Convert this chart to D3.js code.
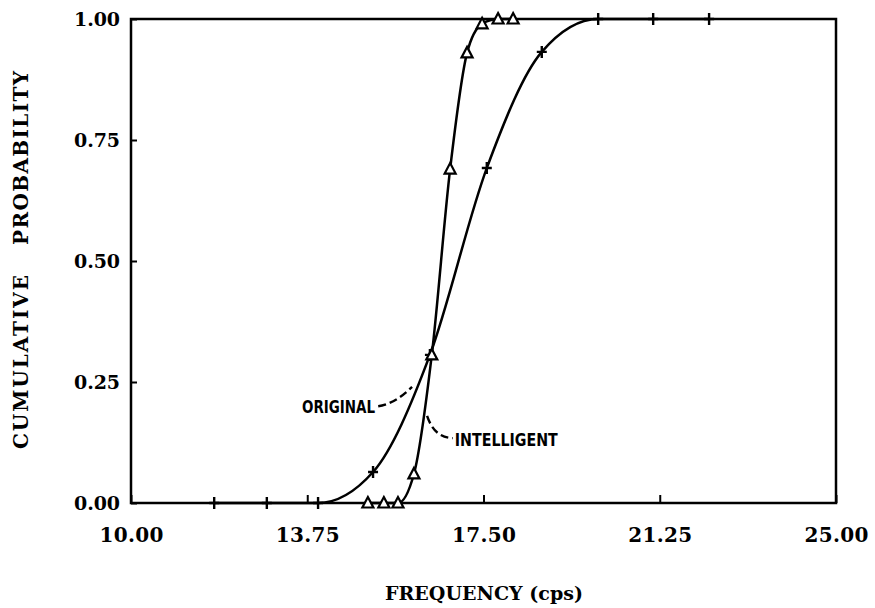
<!DOCTYPE html>
<html>
<head>
<meta charset="utf-8">
<script src="https://cdn.jsdelivr.net/npm/d3@7"></script>
<style>
  html, body { margin: 0; padding: 0; background: #fff; }
  svg { display: block; }
</style>
</head>
<body>
<svg id="chart" width="875" height="608"></svg>
<script>
// ---- data ----
const originalX = [11.77, 12.89, 13.98, 15.15, 16.36, 17.57, 18.74, 19.94, 21.11, 22.30];
const originalY = [0.0, 0.0, 0.0, 0.064, 0.306, 0.692, 0.932, 1.0, 1.0, 1.0];
const intelligentX = [15.04, 15.38, 15.68, 16.02, 16.40, 16.79, 17.15, 17.47, 17.81, 18.13];
const intelligentY = [0.0, 0.0, 0.0, 0.06, 0.306, 0.69, 0.93, 0.99, 1.0, 1.0];
const xTickValues = [10.00, 13.75, 17.50, 21.25, 25.00];
const yTickValues = [0.00, 0.25, 0.50, 0.75, 1.00];
const xTitle = "FREQUENCY (cps)";
const yTitleWords = ["CUMULATIVE", "PROBABILITY"];
const seriesLabels = ["ORIGINAL", "INTELLIGENT"];

// ---- layout ----
const svg = d3.select("#chart");
const L = 131, R = 836, T = 19, B = 503;
const x = d3.scaleLinear().domain([10, 25]).range([L, R]);
const y = d3.scaleLinear().domain([0, 1]).range([B, T]);
const serif = "'DejaVu Serif', 'Liberation Serif', serif";
const narrow = "'DejaVu Sans Condensed', 'Liberation Sans Narrow', 'DejaVu Sans', sans-serif";

// frame
svg.append("rect")
  .attr("x", L).attr("y", T).attr("width", R - L).attr("height", B - T)
  .attr("fill", "none").attr("stroke", "#000").attr("stroke-width", 2.5);

// bottom axis
const gx = svg.append("g").attr("transform", `translate(0,${B})`)
  .call(d3.axisBottom(x).tickValues(xTickValues).tickSize(-8).tickFormat(d3.format(".2f")));
gx.select(".domain").remove();
gx.selectAll(".tick line").attr("stroke", "#000").attr("stroke-width", 2);
gx.selectAll(".tick text")
  .attr("y", 39).attr("dy", 0)
  .attr("font-family", serif).attr("font-weight", "bold").attr("font-size", 20)
  .attr("fill", "#000")
  .attr("textLength", 64).attr("lengthAdjust", "spacing");

// left axis
const gy = svg.append("g").attr("transform", `translate(${L},0)`)
  .call(d3.axisLeft(y).tickValues(yTickValues).tickSize(-6).tickPadding(11).tickFormat(d3.format(".2f")));
gy.select(".domain").remove();
gy.selectAll(".tick line").attr("stroke", "#000").attr("stroke-width", 2);
gy.selectAll(".tick text")
  .attr("font-family", serif).attr("font-weight", "bold").attr("font-size", 19)
  .attr("fill", "#000")
  .attr("textLength", 46).attr("lengthAdjust", "spacing");

// axis titles
svg.append("text")
  .attr("x", 484).attr("y", 600).attr("text-anchor", "middle")
  .attr("font-family", serif).attr("font-weight", "bold").attr("font-size", 19)
  .attr("textLength", 198).attr("lengthAdjust", "spacing")
  .text(xTitle);
const yTitleCenters = [362, 158];
yTitleWords.forEach((w, i) => {
  svg.append("text")
    .attr("transform", `translate(28,${yTitleCenters[i]}) rotate(-90)`)
    .attr("text-anchor", "middle")
    .attr("font-family", serif).attr("font-weight", "bold").attr("font-size", 20)
    .attr("textLength", 174).attr("lengthAdjust", "spacing")
    .text(w);
});

// curves
const line = d3.line().x(d => x(d[0])).y(d => y(d[1])).curve(d3.curveMonotoneX);
const orig = originalX.map((v, i) => [v, originalY[i]]);
const intel = intelligentX.map((v, i) => [v, intelligentY[i]]);
svg.append("path").attr("d", line(orig)).attr("fill", "none").attr("stroke", "#000").attr("stroke-width", 2.5);
svg.append("path").attr("d", line(intel)).attr("fill", "none").attr("stroke", "#000").attr("stroke-width", 2.5);

// markers: plus for original
svg.append("g").selectAll("path").data(orig).join("path")
  .attr("transform", d => `translate(${x(d[0])},${y(d[1])})`)
  .attr("d", "M-5,0H5M0,-6V6")
  .attr("stroke", "#000").attr("stroke-width", 2.4).attr("fill", "none");

// markers: triangles for intelligent
svg.append("g").selectAll("path").data(intel).join("path")
  .attr("transform", d => `translate(${x(d[0])},${y(d[1])})`)
  .attr("d", "M0,-6L5.5,4.5L-5.5,4.5Z")
  .attr("stroke", "#000").attr("stroke-width", 2.2).attr("fill", "#fff");

// annotations (positioned in data units)
const annotations = [
  { text: seriesLabels[0], tx: 13.64, ty: 0.186, len: 73,
    p0: [15.26, 0.200], c: [15.62, 0.205], p1: [15.98, 0.240] },
  { text: seriesLabels[1], tx: 16.89, ty: 0.118, len: 103,
    p0: [16.30, 0.180], c: [16.45, 0.135], p1: [16.85, 0.134] }
];
annotations.forEach(a => {
  svg.append("path")
    .attr("d", `M${x(a.p0[0])},${y(a.p0[1])}Q${x(a.c[0])},${y(a.c[1])} ${x(a.p1[0])},${y(a.p1[1])}`)
    .attr("fill", "none").attr("stroke", "#000").attr("stroke-width", 2.4)
    .attr("stroke-dasharray", "8,4");
  svg.append("text")
    .attr("x", x(a.tx)).attr("y", y(a.ty))
    .attr("font-family", narrow).attr("font-weight", "bold").attr("font-size", 17)
    .attr("textLength", a.len).attr("lengthAdjust", "spacingAndGlyphs")
    .text(a.text);
});
</script>
</body>
</html>
